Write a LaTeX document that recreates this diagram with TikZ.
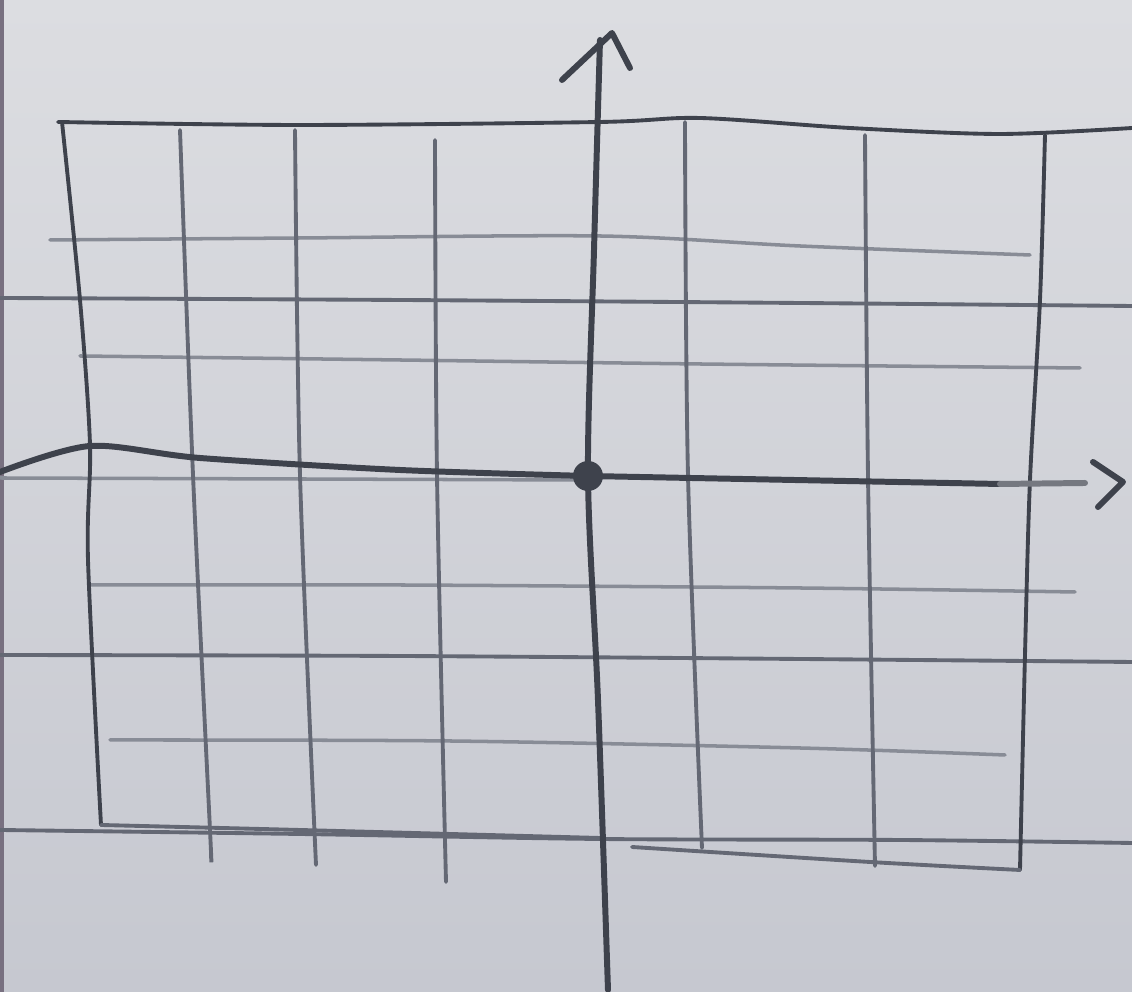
\documentclass[tikz,border=0pt]{standalone}
\usepackage{tikz}
\usetikzlibrary{arrows.meta,positioning}

\definecolor{paperhi}{RGB}{220,221,225}
\definecolor{paperlo}{RGB}{198,200,208}
\definecolor{pencil}{RGB}{62,66,76}
\definecolor{pencilsoft}{RGB}{100,104,116}
\definecolor{pencilfaint}{RGB}{136,140,150}
\definecolor{paperedge}{RGB}{120,112,128}

\begin{document}
\begin{tikzpicture}[
  x=0.01cm, y=-0.01cm,
  axisline/.style={draw=pencil, line width=1.7pt, line cap=round, line join=round},
  gridline/.style={draw=pencilsoft, line width=1.1pt, line cap=round},
  faintline/.style={draw=pencilfaint, line width=1.0pt, line cap=round},
]
  \useasboundingbox (0,0) rectangle (1132,992);
  \shade[top color=paperhi, bottom color=paperlo] (0,0) rectangle (1132,992);
  \draw[draw=paperedge, line width=1.0pt] (2,0) -- (2,992);

  % paper rulings and long lines
  \draw[faintline] plot[smooth] coordinates {(0,478) (300,479) (580,480)};
  \draw[gridline] plot[smooth] coordinates {(0,298) (400,300) (800,303) (1132,306)};
  \draw[gridline] plot[smooth] coordinates {(0,655) (400,656) (800,659) (1132,662)};
  \draw[gridline] plot[smooth] coordinates {(0,830) (300,834) (600,839) (900,840) (1132,843)};

  % faint in-between lines
  \draw[faintline] plot[smooth] coordinates {(50,240) (300,238) (600,236) (800,246) (1030,255)};
  \draw[faintline] plot[smooth] coordinates {(80,356) (400,360) (700,364) (1080,368)};
  \draw[faintline] plot[smooth] coordinates {(90,585) (400,585) (800,588) (1075,592)};
  \draw[faintline] plot[smooth] coordinates {(110,740) (450,741) (800,748) (1005,755)};

  % frame
  \draw[gridline, draw=pencil] plot[smooth] coordinates {(58,122) (300,125) (600,122) (700,118) (850,128) (1000,134) (1132,128)};
  \draw[gridline, draw=pencil] plot[smooth] coordinates {(62,122) (80,300) (90,445) (88,560) (101,825)};
  \draw[gridline, draw=pencil] plot[smooth] coordinates {(1045,135) (1040,300) (1030,480) (1025,655) (1020,870)};
  \draw[gridline] plot[smooth] coordinates {(101,825) (300,830) (600,838)};
  \draw[gridline] plot[smooth] coordinates {(632,847) (870,862) (1020,870)};

  % vertical grid lines
  \draw[gridline] plot[smooth] coordinates {(180,130) (193,475) (210,830) (211,855)};
  \draw[gridline] plot[smooth] coordinates {(295,130) (300,475) (316,865)};
  \draw[gridline] plot[smooth] coordinates {(435,140) (437,475) (446,882)};
  \draw[gridline] plot[smooth] coordinates {(685,122) (688,475) (702,848)};
  \draw[gridline] plot[smooth] coordinates {(865,135) (868,475) (875,866)};

  % axes
  \coordinate (origin) at (588,476);
  \coordinate (ytip) at (612,33);
  \coordinate (xtip) at (1123,482);
  \draw[axisline] plot[smooth] coordinates {(608,990) (598,700) (origin) (594,250) (600,40)};
  \draw[axisline] plot[smooth] coordinates {(0,472) (90,446) (200,458) (400,470) (origin)};
  \draw[axisline] (origin) -- (1000,484);
  \draw[axisline, draw=pencil!65!paperhi] (1000,484) -- (1085,483);
  \draw[axisline] (562,80) -- (ytip) -- (630,68);
  \draw[axisline] (1093,462) -- (xtip) -- (1098,507);
  \fill[pencil] (origin) circle (15);
\end{tikzpicture}
\end{document}
